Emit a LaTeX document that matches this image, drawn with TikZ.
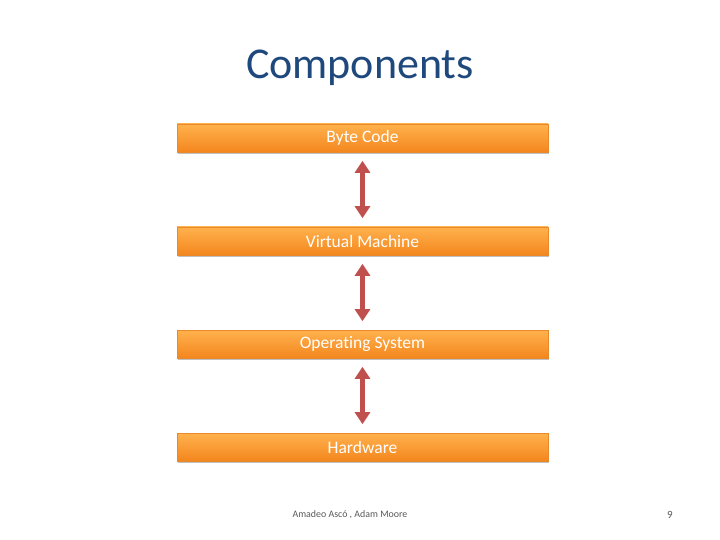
\documentclass[tikz,border=0pt]{standalone}
\usepackage{fontspec}
\setmainfont[Ligatures={NoCommon}]{Carlito}
\usetikzlibrary{arrows.meta,shadows}
\definecolor{titleblue}{HTML}{1F497D}
\definecolor{orangetop}{HTML}{FFB24D}
\definecolor{orangebot}{HTML}{F4861E}
\definecolor{orangeedge}{HTML}{E9892A}
\definecolor{arrowred}{HTML}{C0504D}
\definecolor{footgray}{HTML}{595959}
\tikzset{
  layerbox/.style={minimum width=371pt, minimum height=28pt, inner sep=0pt,
    top color=orangetop, bottom color=orangebot, draw=orangeedge, line width=0.6pt,
    drop shadow={shadow xshift=1pt, shadow yshift=-2pt, opacity=0.35, fill=black!70},
    text=white, font=\fontsize{17.5}{20}\selectfont},
  biarrow/.style={draw=arrowred, line width=5pt,
    {Triangle[width=15pt,length=12pt]}-{Triangle[width=15pt,length=12pt]},
    shorten <=8.5pt, shorten >=8.5pt},
}
\begin{document}
\begin{tikzpicture}[x=1pt,y=-1pt]
\useasboundingbox[fill=white] (0,0) rectangle (720,540);
\node[text=titleblue, font=\fontsize{44}{52}\selectfont] (title) at (360,68) {Components};
\node[layerbox] (b1) at (362.5,138) {Byte Code};
\node[layerbox] (b2) at (362.5,241) {Virtual Machine};
\node[layerbox] (b3) at (362.5,344) {Operating System};
\node[layerbox] (b4) at (362.5,447) {Hardware};
\draw[biarrow] (b1.south) -- (b2.north);
\draw[biarrow] (b2.south) -- (b3.north);
\draw[biarrow] (b3.south) -- (b4.north);
\node[text=footgray, font=\fontsize{9.9}{12}\selectfont] (foot) at (350,515) {Amadeo Ascó , Adam Moore};
\node[text=footgray, font=\fontsize{11}{13}\selectfont] (page) at (670,515) {9};
\end{tikzpicture}
\end{document}
